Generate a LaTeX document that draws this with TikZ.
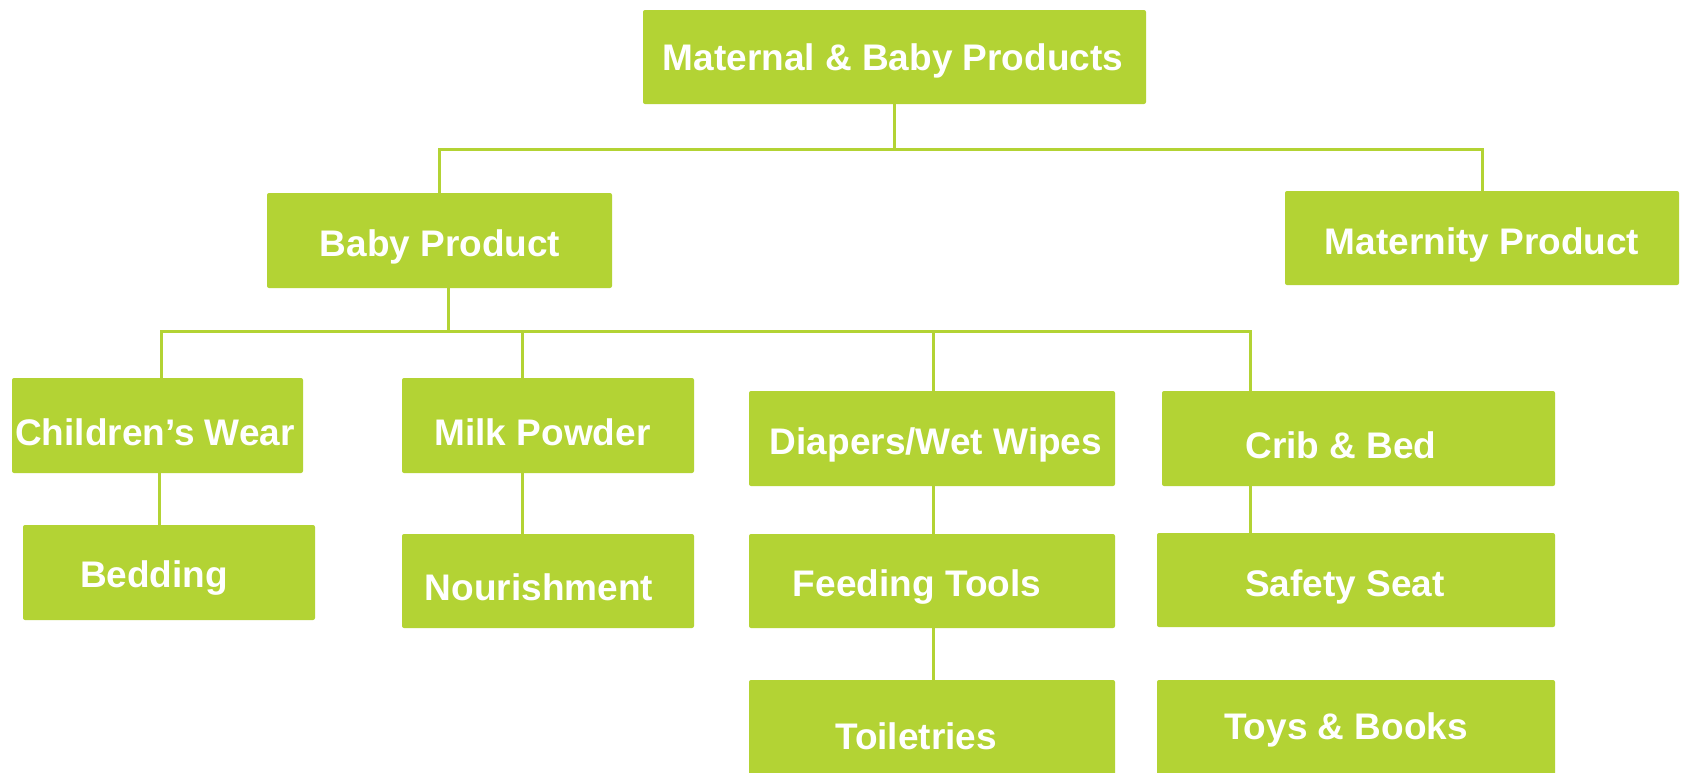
\documentclass[tikz,border=0pt]{standalone}
\usepackage{fontspec}
\setmainfont{Liberation Sans}
\definecolor{leaf}{RGB}{179,211,52}
\begin{document}
\begin{tikzpicture}[x=1pt,y=-1pt,
  box/.style={fill=leaf, rounded corners=2pt, inner sep=0pt, minimum height=95pt},
  txt/.style={text=white, font=\fontsize{37}{44}\selectfont\bfseries, inner sep=0pt},
  conn/.style={draw=leaf, line width=3pt}]
\useasboundingbox (0,0) rectangle (1681,772);
% level 0
\node[box, minimum width=503pt, minimum height=94pt] (top) at (894.5,57) {};
\node[txt] (toptxt) at (893,61) {Maternal \& Baby Products};
% level 1
\node[box, minimum width=345pt] (baby) at (439.5,240.5) {};
\node[txt] (babytxt) at (440,247) {Baby Product};
\node[box, minimum width=394pt, minimum height=94pt] (mat) at (1482,238) {};
\node[txt] (mattxt) at (1482,245) {Maternity Product};
% level 2
\node[box, minimum width=291pt] (cw) at (157.5,425.5) {};
\node[txt] (cwtxt) at (155,432) {Children’s Wear};
\node[box, minimum width=292pt] (milk) at (548,425.5) {};
\node[txt] (milktxt) at (542.5,432) {Milk Powder};
\node[box, minimum width=366pt] (diap) at (932,438.5) {};
\node[txt] (diaptxt) at (936,445) {Diapers/Wet Wipes};
\node[box, minimum width=393pt] (crib) at (1358.5,438.5) {};
\node[txt] (cribtxt) at (1341,445) {Crib \& Bed};
% level 3
\node[box, minimum width=292pt] (bed) at (169,572.5) {};
\node[txt] (bedtxt) at (154,578) {Bedding};
\node[box, minimum width=292pt, minimum height=94pt] (nour) at (548,581) {};
\node[txt] (nourtxt) at (539,587) {Nourishment};
\node[box, minimum width=366pt, minimum height=94pt] (feed) at (932,581) {};
\node[txt] (feedtxt) at (917,587) {Feeding Tools};
\node[box, minimum width=398pt, minimum height=94pt] (safe) at (1356,580) {};
\node[txt] (safetxt) at (1345,587) {Safety Seat};
% level 4
\node[box, minimum width=366pt] (toil) at (932,727.5) {};
\node[txt] (toiltxt) at (916,736) {Toiletries};
\node[box, minimum width=398pt] (toys) at (1356,727.5) {};
\node[txt] (toystxt) at (1346,730) {Toys \& Books};
% buses
\coordinate (busA) at (895,149);
\coordinate (busB) at (448,331);
% connectors
\draw[conn] (top.south) -- (top.south |- busA);
\draw[conn] (baby.north) |- (busA) -| (mat.north);
\draw[conn] ([xshift=8.5]baby.south) -- (busB);
\draw[conn] ([xshift=3.5]cw.north) |- (busB);
\draw[conn] (busB) -| ([xshift=-108.5]crib.north);
\draw[conn] ([xshift=-26]milk.north) -- ([xshift=-26]milk.north |- busB);
\draw[conn] ([xshift=1]diap.north) -- ([xshift=1]diap.north |- busB);
\draw[conn] ([xshift=1.5]cw.south) -- ([xshift=-10]bed.north);
\draw[conn] ([xshift=-26]milk.south) -- ([xshift=-26]nour.north);
\draw[conn] ([xshift=1]diap.south) -- ([xshift=1]feed.north);
\draw[conn] ([xshift=1]feed.south) -- ([xshift=1]toil.north);
\draw[conn] ([xshift=-108.5]crib.south) -- ([xshift=-106]safe.north);
\end{tikzpicture}
\end{document}
